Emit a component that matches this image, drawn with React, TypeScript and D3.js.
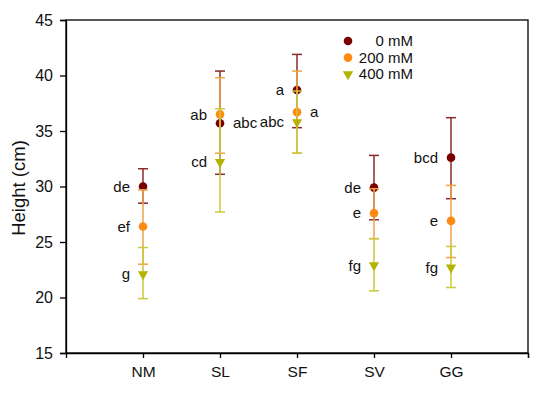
import { useEffect, useRef } from "react";
import * as d3 from "d3";

const W = 550;
const H = 397;
const margin = { top: 20, right: 22, bottom: 44, left: 66 };

const CATEGORIES: string[] = ["NM", "SL", "SF", "SV", "GG"];
const SERIES: string[] = ["0 mM", "200 mM", "400 mM"];

// means and error bar ends, per series
const MEAN_0: number[] = [30.0, 35.7, 38.7, 29.9, 32.6];
const LOW_0: number[] = [28.5, 31.1, 35.3, 27.0, 28.9];
const HIGH_0: number[] = [31.6, 40.4, 41.9, 32.8, 36.2];

const MEAN_200: number[] = [26.4, 36.5, 36.7, 27.6, 26.9];
const LOW_200: number[] = [23.0, 33.0, 33.0, 25.3, 23.6];
const HIGH_200: number[] = [29.7, 39.8, 40.4, 29.8, 30.1];

const MEAN_400: number[] = [22.1, 32.2, 35.8, 22.9, 22.7];
const LOW_400: number[] = [19.9, 27.7, 33.0, 20.6, 20.9];
const HIGH_400: number[] = [24.5, 37.0, 38.6, 25.3, 24.6];

const LETTERS_0: string[] = ["de", "abc", "a", "de", "bcd"];
const LETTERS_200: string[] = ["ef", "ab", "a", "e", "e"];
const LETTERS_400: string[] = ["g", "cd", "abc", "fg", "fg"];
// which letters sit on the right of the point
const RIGHT_0: boolean[] = [false, true, false, false, false];
const RIGHT_200: boolean[] = [false, false, true, false, false];
const RIGHT_400: boolean[] = [false, false, false, false, false];

const Y_TICKS: number[] = [15, 20, 25, 30, 35, 40, 45];

const MARKER = ["#7a0000", "#ff8a12", "#b3b300"];
const BAR = ["#8a2a2a", "#f2a24a", "#c9c93e"];
const FONT = "Liberation Sans, Arial, sans-serif";

const App = () => {
  const svgRef = useRef<SVGSVGElement | null>(null);

  useEffect(() => {
    if (!svgRef.current) return;
    const svg = d3.select(svgRef.current);
    svg.selectAll("*").remove();

    const innerW = W - margin.left - margin.right;
    const innerH = H - margin.top - margin.bottom;

    const x = d3.scaleLinear().domain([0, 6]).range([0, innerW]);
    const y = d3.scaleLinear().domain([15, 45]).range([innerH, 0]);

    const g = svg
      .append("g")
      .attr("transform", `translate(${margin.left}, ${margin.top})`);

    // frame
    g.append("rect")
      .attr("width", innerW)
      .attr("height", innerH)
      .attr("fill", "none")
      .attr("stroke", "#000")
      .attr("stroke-width", 1.3);

    const xAxis = g
      .append("g")
      .attr("transform", `translate(0, ${innerH})`)
      .call(
        d3
          .axisBottom(x)
          .tickValues([1, 2, 3, 4, 5, 6])
          .tickFormat((d) => CATEGORIES[(d as number) - 1] ?? "")
          .tickSize(5)
          .tickPadding(8)
      );
    xAxis.select(".domain").attr("stroke-width", 1.3);

    const yAxis = g
      .append("g")
      .call(d3.axisLeft(y).tickValues(Y_TICKS).tickSize(6).tickPadding(7));
    yAxis.select(".domain").attr("stroke-width", 1.3);

    xAxis.selectAll("text").attr("font-size", 15.5);
    yAxis.selectAll("text").attr("font-size", 16);
    [xAxis, yAxis].forEach((a) => {
      a.selectAll("text").attr("font-family", FONT).attr("fill", "#111");
      a.selectAll(".tick line").attr("stroke-width", 1.3);
    });

    svg
      .append("text")
      .attr("transform", `translate(25, 188) rotate(-90)`)
      .attr("text-anchor", "middle")
      .attr("font-family", FONT)
      .attr("font-size", 18.5)
      .attr("fill", "#111")
      .text("Height (cm)");

    const series = [
      { mean: MEAN_0, low: LOW_0, high: HIGH_0, letters: LETTERS_0, right: RIGHT_0 },
      { mean: MEAN_200, low: LOW_200, high: HIGH_200, letters: LETTERS_200, right: RIGHT_200 },
      { mean: MEAN_400, low: LOW_400, high: HIGH_400, letters: LETTERS_400, right: RIGHT_400 },
    ];

    const tri = d3.symbol().type(d3.symbolTriangle).size(46);

    series.forEach((s, si) => {
      const sg = g.append("g");
      CATEGORIES.forEach((c, i) => {
        const cx = x(i + 1);
        sg.append("line")
          .attr("x1", cx)
          .attr("x2", cx)
          .attr("y1", y(s.low[i]))
          .attr("y2", y(s.high[i]))
          .attr("stroke", BAR[si])
          .attr("stroke-width", 1.5);
        [s.low[i], s.high[i]].forEach((v) => {
          sg.append("line")
            .attr("x1", cx - 5)
            .attr("x2", cx + 5)
            .attr("y1", y(v))
            .attr("y2", y(v))
            .attr("stroke", BAR[si])
            .attr("stroke-width", 1.5);
        });
        if (si === 2) {
          sg.append("path")
            .attr("d", tri)
            .attr("transform", `translate(${cx}, ${y(s.mean[i])}) rotate(180)`)
            .attr("fill", MARKER[si]);
        } else {
          sg.append("circle")
            .attr("cx", cx)
            .attr("cy", y(s.mean[i]))
            .attr("r", 4.3)
            .attr("fill", MARKER[si]);
        }
        const right = s.right[i];
        sg.append("text")
          .attr("x", right ? cx + 13 : cx - 13)
          .attr("y", y(s.mean[i]))
          .attr("dy", "0.35em")
          .attr("text-anchor", right ? "start" : "end")
          .attr("font-family", FONT)
          .attr("font-size", 15)
          .attr("fill", "#111")
          .text(s.letters[i]);
      });
    });

    // legend
    const legend = g.append("g");
    SERIES.forEach((name, si) => {
      const ly = 21 + si * 16.6;
      const lx = 282;
      if (si === 2) {
        legend
          .append("path")
          .attr("d", tri)
          .attr("transform", `translate(${lx}, ${ly}) rotate(180)`)
          .attr("fill", MARKER[si]);
      } else {
        legend
          .append("circle")
          .attr("cx", lx)
          .attr("cy", ly)
          .attr("r", 4.3)
          .attr("fill", MARKER[si]);
      }
      legend
        .append("text")
        .attr("x", lx + 65)
        .attr("y", ly)
        .attr("dy", "0.35em")
        .attr("text-anchor", "end")
        .attr("font-family", FONT)
        .attr("font-size", 15)
        .attr("fill", "#111")
        .text(name);
    });
  }, []);

  return (
    <svg
      ref={svgRef}
      width={W}
      height={H}
      style={{ position: "absolute", left: 0, top: 0, background: "#fff" }}
    />
  );
};

export default App;
